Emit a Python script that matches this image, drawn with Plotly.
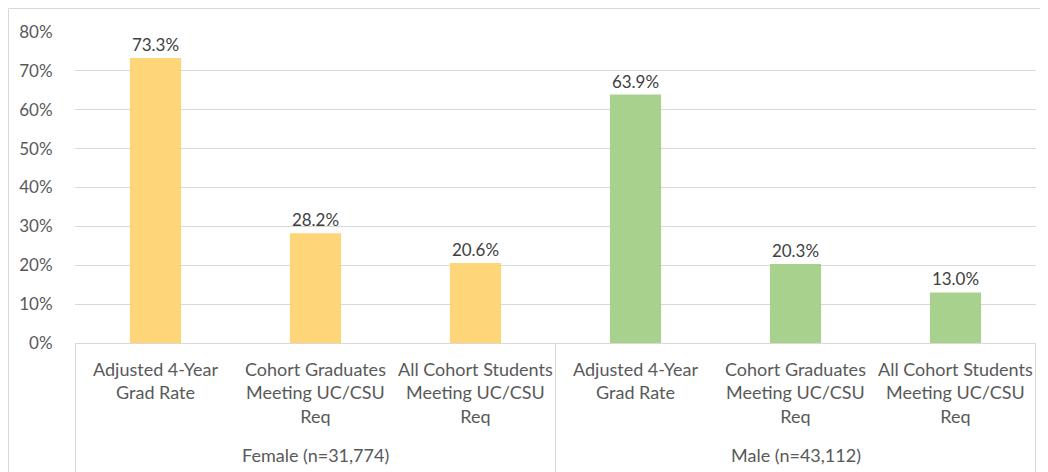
import plotly.graph_objects as go

groups = ["Female (n=31,774)", "Male (n=43,112)"]
measures = [
    "Adjusted 4-Year<br>Grad Rate",
    "Cohort Graduates<br>Meeting UC/CSU<br>Req",
    "All Cohort Students<br>Meeting UC/CSU<br>Req",
]
female_rates = [0.733, 0.282, 0.206]
male_rates = [0.639, 0.203, 0.130]
ytick_vals = [0, 0.1, 0.2, 0.3, 0.4, 0.5, 0.6, 0.7, 0.8]

group_colors = {"Female (n=31,774)": "#FFD57A", "Male (n=43,112)": "#A9D18E"}
FONT = "Lato, Calibri, sans-serif"
TEXT_GREY = "#595959"
LINE_GREY = "#D9D9D9"

# one category per (group, measure) so labels can repeat across groups
categories = [f"{g}|{m}" for g in groups for m in measures]

fig = go.Figure()
for grp, vals in zip(groups, [female_rates, male_rates]):
    fig.add_trace(
        go.Bar(
            x=[f"{grp}|{m}" for m in measures],
            y=vals,
            marker=dict(color=group_colors[grp], line=dict(width=0)),
            text=[f"{v * 100:.1f}%" for v in vals],
            textposition="outside",
            textfont=dict(size=17, color="#404040", family=FONT),
            cliponaxis=False,
            showlegend=False,
            hoverinfo="skip",
        )
    )

annotations = []
# measure labels under each bar
for cat in categories:
    annotations.append(dict(
        x=cat, y=0, xref="x", yref="paper",
        yanchor="top", yshift=-13,
        text=cat.split("|")[1], showarrow=False,
        font=dict(size=18, color=TEXT_GREY, family=FONT),
    ))
# group labels centred under each group of three
for i, grp in enumerate(groups):
    annotations.append(dict(
        x=categories[i * len(measures) + 1], y=0, xref="x", yref="paper",
        yanchor="top", yshift=-99,
        text=grp, showarrow=False,
        font=dict(size=18, color=TEXT_GREY, family=FONT),
    ))

shapes = [
    # outer chart border (Excel chart area)
    dict(type="rect", xref="paper", yref="paper",
         x0=-0.0692, x1=1.2, y0=-0.6, y1=1.0756,
         line=dict(color=LINE_GREY, width=1), layer="below"),
]
# group dividers on the category axis
for pos in [-0.5, 2.5, 5.5]:
    shapes.append(dict(type="line", xref="x", yref="paper",
                       x0=pos, x1=pos, y0=0, y1=-0.5,
                       line=dict(color=LINE_GREY, width=1)))

fig.update_layout(
    width=1040,
    height=464,
    margin=dict(l=67, r=12, t=24, b=129),
    paper_bgcolor="white",
    plot_bgcolor="white",
    bargap=0.68,
    font=dict(family=FONT, size=17, color=TEXT_GREY),
    annotations=annotations,
    shapes=shapes,
    xaxis=dict(
        type="category",
        categoryorder="array",
        categoryarray=categories,
        showticklabels=False,
        showline=True,
        linecolor=LINE_GREY,
        linewidth=1,
        ticks="",
        showgrid=False,
    ),
    yaxis=dict(
        range=[0, 0.8],
        tickvals=ytick_vals,
        tickformat=".0%",
        gridcolor=LINE_GREY,
        gridwidth=1,
        zeroline=False,
        showline=False,
        ticks="outside",
        ticklen=18,
        tickcolor="rgba(0,0,0,0)",
        tickfont=dict(size=17, color=TEXT_GREY, family=FONT),
    ),
)

fig.write_html("out.html")
